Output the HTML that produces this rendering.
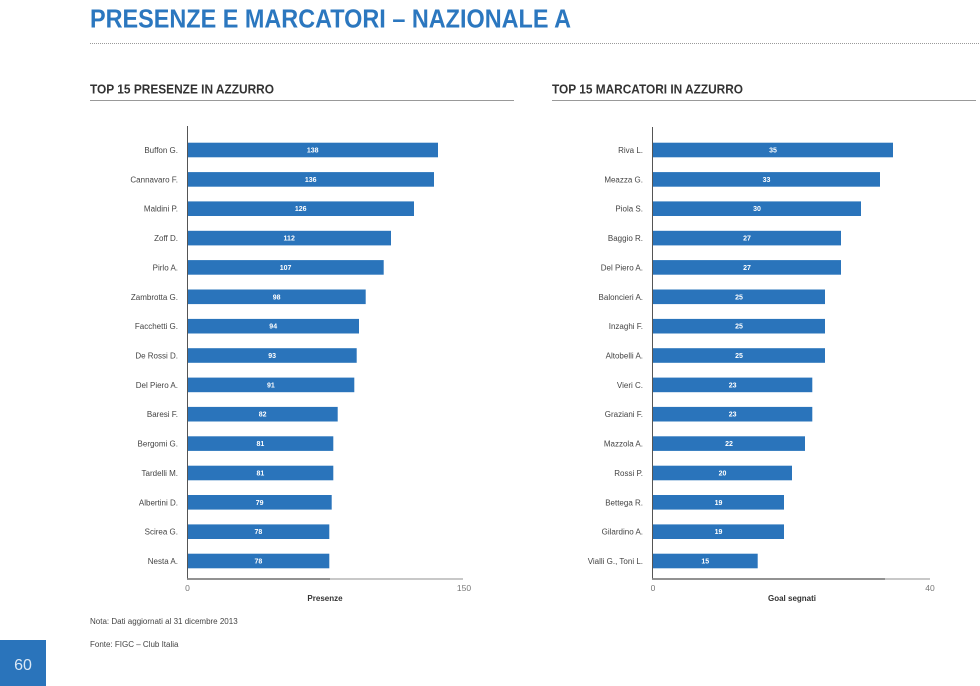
<!DOCTYPE html>
<html>
<head>
<meta charset="utf-8">
<style>
  html,body{margin:0;padding:0;background:#fff;}
  body{width:980px;height:686px;overflow:hidden;}
  svg{display:block;font-family:"Liberation Sans",Arial,sans-serif;}
</style>
</head>
<body>
<svg width="980" height="686" viewBox="0 0 980 686" xmlns="http://www.w3.org/2000/svg">
  <!-- Title -->
  <text x="90" y="27.7" font-size="25.5" font-weight="bold" fill="#2b77bf" textLength="481" lengthAdjust="spacingAndGlyphs">PRESENZE E MARCATORI – NAZIONALE A</text>
  <line x1="90" y1="43.5" x2="980" y2="43.5" stroke="#9a9a9a" stroke-width="1" stroke-dasharray="1,1"/>

  <!-- Subtitles -->
  <text x="90" y="93.3" font-size="12.5" font-weight="bold" fill="#333" textLength="184" lengthAdjust="spacingAndGlyphs">TOP 15 PRESENZE IN AZZURRO</text>
  <line x1="90" y1="100.5" x2="514" y2="100.5" stroke="#999" stroke-width="1"/>
  <text x="552" y="93.3" font-size="12.5" font-weight="bold" fill="#333" textLength="191" lengthAdjust="spacingAndGlyphs">TOP 15 MARCATORI IN AZZURRO</text>
  <line x1="552" y1="100.5" x2="976" y2="100.5" stroke="#999" stroke-width="1"/>

  <!-- LEFT CHART -->
  <g id="left">
    <g fill="#2a74bb">
      <rect x="187.5" y="142.7" width="250.5" height="14.6"/>
      <rect x="187.5" y="172.1" width="246.5" height="14.6"/>
      <rect x="187.5" y="201.4" width="226.5" height="14.6"/>
      <rect x="187.5" y="230.8" width="203.5" height="14.6"/>
      <rect x="187.5" y="260.1" width="196.2" height="14.6"/>
      <rect x="187.5" y="289.5" width="178.2" height="14.6"/>
      <rect x="187.5" y="318.9" width="171.5" height="14.6"/>
      <rect x="187.5" y="348.2" width="169.2" height="14.6"/>
      <rect x="187.5" y="377.6" width="166.8" height="14.6"/>
      <rect x="187.5" y="406.9" width="150.2" height="14.6"/>
      <rect x="187.5" y="436.3" width="145.8" height="14.6"/>
      <rect x="187.5" y="465.7" width="145.8" height="14.6"/>
      <rect x="187.5" y="495.0" width="144.2" height="14.6"/>
      <rect x="187.5" y="524.4" width="141.8" height="14.6"/>
      <rect x="187.5" y="553.7" width="141.8" height="14.6"/>
    </g>
    <g font-size="8" fill="#444" text-anchor="end">
      <text x="178" y="153">Buffon G.</text>
      <text x="178" y="182.4">Cannavaro F.</text>
      <text x="178" y="211.7">Maldini P.</text>
      <text x="178" y="241.1">Zoff D.</text>
      <text x="178" y="270.4">Pirlo A.</text>
      <text x="178" y="299.8">Zambrotta G.</text>
      <text x="178" y="329.2">Facchetti G.</text>
      <text x="178" y="358.5">De Rossi D.</text>
      <text x="178" y="387.9">Del Piero A.</text>
      <text x="178" y="417.2">Baresi F.</text>
      <text x="178" y="446.6">Bergomi G.</text>
      <text x="178" y="476">Tardelli M.</text>
      <text x="178" y="505.3">Albertini D.</text>
      <text x="178" y="534.7">Scirea G.</text>
      <text x="178" y="564">Nesta A.</text>
    </g>
    <g font-size="7" font-weight="bold" fill="#fff" text-anchor="middle">
      <text x="312.7" y="152.5">138</text>
      <text x="310.7" y="181.9">136</text>
      <text x="300.7" y="211.2">126</text>
      <text x="289.2" y="240.6">112</text>
      <text x="285.6" y="269.9">107</text>
      <text x="276.6" y="299.3">98</text>
      <text x="273.2" y="328.7">94</text>
      <text x="272.1" y="358">93</text>
      <text x="270.9" y="387.4">91</text>
      <text x="262.6" y="416.7">82</text>
      <text x="260.4" y="446.1">81</text>
      <text x="260.4" y="475.5">81</text>
      <text x="259.6" y="504.8">79</text>
      <text x="258.4" y="534.2">78</text>
      <text x="258.4" y="563.5">78</text>
    </g>
    <line x1="187.5" y1="126" x2="187.5" y2="579.5" stroke="#555" stroke-width="1"/>
    <line x1="187" y1="579" x2="463" y2="579" stroke="#b5b5b5" stroke-width="1.5"/>
    <line x1="187" y1="579" x2="330" y2="579" stroke="#7a7a7a" stroke-width="1.5"/>
    <g font-size="8.5" fill="#777" text-anchor="middle">
      <text x="187.5" y="591">0</text>
      <text x="464" y="591">150</text>
    </g>
    <text x="325" y="601" font-size="8" font-weight="bold" fill="#333" text-anchor="middle">Presenze</text>
  </g>

  <!-- RIGHT CHART -->
  <g id="right">
    <g fill="#2a74bb">
      <rect x="653" y="142.7" width="240" height="14.6"/>
      <rect x="653" y="172.1" width="227" height="14.6"/>
      <rect x="653" y="201.4" width="208" height="14.6"/>
      <rect x="653" y="230.8" width="188" height="14.6"/>
      <rect x="653" y="260.1" width="188" height="14.6"/>
      <rect x="653" y="289.5" width="172" height="14.6"/>
      <rect x="653" y="318.9" width="172" height="14.6"/>
      <rect x="653" y="348.2" width="172" height="14.6"/>
      <rect x="653" y="377.6" width="159.3" height="14.6"/>
      <rect x="653" y="406.9" width="159.3" height="14.6"/>
      <rect x="653" y="436.3" width="152" height="14.6"/>
      <rect x="653" y="465.7" width="139" height="14.6"/>
      <rect x="653" y="495.0" width="131" height="14.6"/>
      <rect x="653" y="524.4" width="131" height="14.6"/>
      <rect x="653" y="553.7" width="104.7" height="14.6"/>
    </g>
    <g font-size="8" fill="#444" text-anchor="end">
      <text x="643" y="153">Riva L.</text>
      <text x="643" y="182.4">Meazza G.</text>
      <text x="643" y="211.7">Piola S.</text>
      <text x="643" y="241.1">Baggio R.</text>
      <text x="643" y="270.4">Del Piero A.</text>
      <text x="643" y="299.8">Baloncieri A.</text>
      <text x="643" y="329.2">Inzaghi F.</text>
      <text x="643" y="358.5">Altobelli A.</text>
      <text x="643" y="387.9">Vieri C.</text>
      <text x="643" y="417.2">Graziani F.</text>
      <text x="643" y="446.6">Mazzola A.</text>
      <text x="643" y="476">Rossi P.</text>
      <text x="643" y="505.3">Bettega R.</text>
      <text x="643" y="534.7">Gilardino A.</text>
      <text x="643" y="564">Vialli G., Toni L.</text>
    </g>
    <g font-size="7" font-weight="bold" fill="#fff" text-anchor="middle">
      <text x="773" y="152.5">35</text>
      <text x="766.5" y="181.9">33</text>
      <text x="757" y="211.2">30</text>
      <text x="747" y="240.6">27</text>
      <text x="747" y="269.9">27</text>
      <text x="739" y="299.3">25</text>
      <text x="739" y="328.7">25</text>
      <text x="739" y="358">25</text>
      <text x="732.6" y="387.4">23</text>
      <text x="732.6" y="416.7">23</text>
      <text x="729" y="446.1">22</text>
      <text x="722.5" y="475.5">20</text>
      <text x="718.5" y="504.8">19</text>
      <text x="718.5" y="534.2">19</text>
      <text x="705.3" y="563.5">15</text>
    </g>
    <line x1="652.5" y1="127" x2="652.5" y2="579.5" stroke="#555" stroke-width="1"/>
    <line x1="652" y1="579" x2="930" y2="579" stroke="#b5b5b5" stroke-width="1.5"/>
    <line x1="652" y1="579" x2="885" y2="579" stroke="#7a7a7a" stroke-width="1.5"/>
    <g font-size="8.5" fill="#777" text-anchor="middle">
      <text x="653" y="591">0</text>
      <text x="930" y="591">40</text>
    </g>
    <text x="792" y="601" font-size="8" font-weight="bold" fill="#333" text-anchor="middle">Goal segnati</text>
  </g>

  <!-- Notes -->
  <text x="90" y="624" font-size="8" fill="#444">Nota: Dati aggiornati al 31 dicembre 2013</text>
  <text x="90" y="647" font-size="8" fill="#444">Fonte: FIGC – Club Italia</text>

  <!-- Page number -->
  <rect x="0" y="640" width="46" height="46" fill="#2a74bb"/>
  <text x="23" y="670" font-size="16" fill="#dbe8f5" text-anchor="middle">60</text>
</svg>
</body>
</html>
